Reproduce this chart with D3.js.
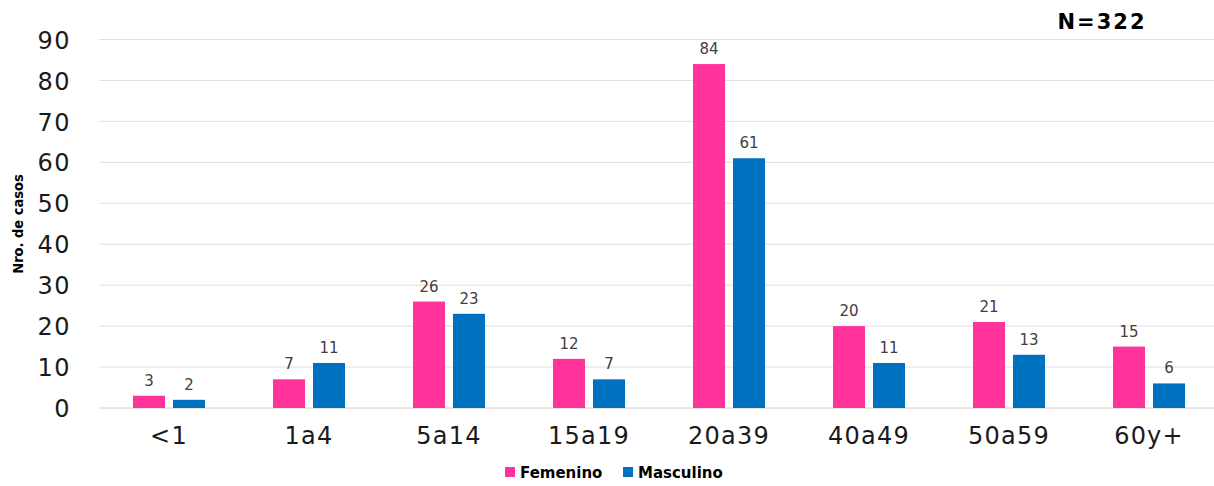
<!DOCTYPE html>
<html><head><meta charset="utf-8">
<script src="https://cdn.jsdelivr.net/npm/d3@7"></script>
<style>body{margin:0;background:#fff}svg{display:block}</style>
</head><body><svg id="c" width="1214" height="486"></svg>
<script>
const categories = ["<1","1a4","5a14","15a19","20a39","40a49","50a59","60y+"];
const femenino = [3,7,26,12,84,20,21,15];
const masculino = [2,11,23,7,61,11,13,6];
const yTicks = [0,10,20,30,40,50,60,70,80,90];
const seriesNames = ["Femenino","Masculino"];
const colors = ["#FF3399","#0070C0"];

const svg = d3.select("#c");
const font = "DejaVu Sans, Verdana, sans-serif";
const x = d3.scaleBand().domain(categories).range([99,1219]).padding(0);
const y = d3.scaleLinear().domain([0,90]).range([408,39.5]);
const x1 = d3.scaleBand().domain(seriesNames).range([0,72]).paddingInner(0.2);

// gridlines
svg.append("g").selectAll("line").data(yTicks).join("line")
  .attr("x1",99).attr("x2",1214).attr("y1",d=>y(d)).attr("y2",d=>y(d))
  .attr("stroke",d=>d===0?"#d0d0d0":"#e0e0e0").attr("stroke-width",1);

// y axis labels
const yAxis = svg.append("g").attr("transform","translate(71,0)")
  .call(d3.axisLeft(y).tickValues(yTicks).tickSize(0).tickPadding(0));
yAxis.select(".domain").remove();
yAxis.selectAll("text").attr("font-family",font).attr("font-size",24).attr("letter-spacing",1.5)
  .attr("fill","#1a1a1a").attr("dy","0.36em");

// x axis labels
const xAxis = svg.append("g").attr("transform","translate(0,408)")
  .call(d3.axisBottom(x).tickSize(0).tickPadding(19));
xAxis.select(".domain").remove();
xAxis.selectAll("text").attr("font-family",font).attr("font-size",24).attr("letter-spacing",1.2)
  .attr("fill","#1a1a1a").attr("dy","0.71em");

// bars
const data = categories.map((c,i)=>({c, vals:[{s:"Femenino",v:femenino[i]},{s:"Masculino",v:masculino[i]}]}));
const g = svg.append("g").selectAll("g").data(data).join("g")
  .attr("transform",d=>`translate(${x(d.c)+x.bandwidth()/2-36},0)`);
g.selectAll("rect").data(d=>d.vals).join("rect")
  .attr("x",d=>x1(d.s)).attr("width",x1.bandwidth())
  .attr("y",d=>y(d.v)).attr("height",d=>y(0)-y(d.v))
  .attr("fill",(d,i)=>colors[i]);
g.selectAll("text").data(d=>d.vals).join("text")
  .attr("x",d=>x1(d.s)+x1.bandwidth()/2).attr("y",d=>y(d.v)-10)
  .attr("text-anchor","middle").attr("font-family",font).attr("font-size",15)
  .attr("fill","#404040").text(d=>d.v);

// y title
svg.append("text").attr("transform","translate(23,224) rotate(-90)")
  .attr("text-anchor","middle").attr("font-family","DejaVu Sans Condensed, DejaVu Sans, sans-serif")
  .attr("font-stretch","condensed").attr("font-size",14.5)
  .attr("font-weight","bold").attr("fill","#000").text("Nro. de casos");

// N
svg.append("text").attr("x",1102).attr("y",29).attr("text-anchor","middle")
  .attr("font-family",font).attr("font-size",21).attr("font-weight","bold").attr("letter-spacing",2)
  .attr("fill","#000").text("N=322");

// legend
const leg = svg.append("g").attr("transform","translate(0,478)");
const legX = [505,623];
seriesNames.forEach((s,i)=>{
  leg.append("rect").attr("x",legX[i]).attr("y",-11).attr("width",10).attr("height",10).attr("fill",colors[i]);
  leg.append("text").attr("x",legX[i]+15).attr("y",0).attr("font-family",font)
    .attr("font-size",15).attr("font-weight","bold").attr("fill","#000").text(s);
});
</script></body></html>
